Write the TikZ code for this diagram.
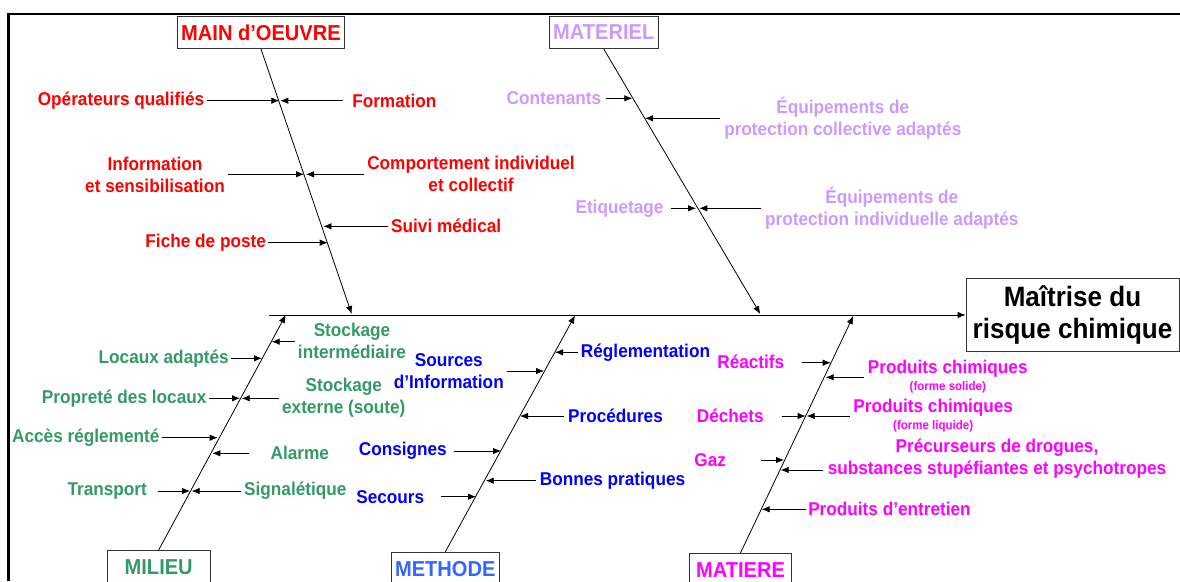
\documentclass[tikz,border=0pt]{standalone}
\usepackage{fontspec}
\setmainfont{Liberation Sans}[FakeStretch=0.93]
\usetikzlibrary{arrows.meta}
\definecolor{oeuvreRed}{HTML}{FF0000}
\definecolor{materielLilac}{HTML}{CC99FF}
\definecolor{milieuGreen}{HTML}{339966}
\definecolor{methodeBlue}{HTML}{0000FF}
\definecolor{methodeHead}{HTML}{3366FF}
\definecolor{matiereMagenta}{HTML}{FF00FF}

\begin{document}
\begin{tikzpicture}
[x=1pt,y=-1pt,
 catBox/.style={draw=black!80,fill=white,line width=0.8pt,minimum height=32.7pt,inner sep=0pt,font=\fontsize{21.6}{24}\selectfont\bfseries},
 causeText/.style={align=center,inner sep=0pt,font=\fontsize{18.5}{22}\selectfont\bfseries},
 boneLine/.style={-{Latex[length=8pt,width=6.5pt]},line width=0.8pt},
 causeArrow/.style={-{Latex[length=8pt,width=6.5pt]},line width=0.8pt}]
\useasboundingbox (0,0) rectangle (1180,581);
%% frame
\draw[line width=2.4pt] (8.3,581) -- (8.3,14) -- (1180,14);
%% effect and spine
\node (effect) at (1072.5,315) [draw=black!80,line width=0.8pt,minimum width=213pt,minimum height=73.7pt,inner sep=0pt,align=center,font=\fontsize{28}{32.7}\selectfont\bfseries] {Maîtrise du\\risque chimique};
\coordinate (spine) at (269,315);
\draw[boneLine] (spine) -- (effect.west);
%% categories
\foreach \nodename/\x/\y/\w/\col/\txt in {
  main/261/32.3/166.6/oeuvreRed/MAIN d’OEUVRE,
  materiel/603.8/32.3/109.7/materielLilac/MATERIEL,
  milieu/158.7/566.7/102.7/milieuGreen/MILIEU,
  methode/445.3/568.6/107.3/methodeHead/METHODE,
  matiere/740.5/569.6/102.4/matiereMagenta/MATIERE}
{
  \node (\nodename) at (\x,\y) [catBox,minimum width=\w pt,text=\col] {\txt};
}
%% bones
\foreach \nodename/\x/\y in {main/351.7/314, materiel/760.3/314,
  milieu/285.7/315, methode/575/315.5, matiere/853.3/316}
{
  \coordinate (\nodename-tip) at (\x,\y);
}
\draw[boneLine] (main.south) -- (main-tip);
\draw[boneLine] (materiel.south) -- (materiel-tip);
\draw[boneLine] (milieu.north) -- (milieu-tip);
\draw[boneLine] (methode.north) -- (methode-tip);
\draw[boneLine] (matiere.north) -- (matiere-tip);
%% causes
\foreach \nodename/\x/\y/\col/\txt in {
  opq/121/100.7/oeuvreRed/Opérateurs qualifiés,
  form/394.3/100.7/oeuvreRed/Formation,
  info/155/174.5/oeuvreRed/Information\\et sensibilisation,
  comp/471/174.2/oeuvreRed/Comportement individuel\\et collectif,
  suivi/446.2/225.7/oeuvreRed/Suivi médical,
  fiche/205.7/242.7/oeuvreRed/Fiche de poste,
  cont/553.9/98.3/materielLilac/Contenants,
  epc/842.8/117.9/materielLilac/Équipements de\\protection collective adaptés,
  etiq/619.5/208.3/materielLilac/Etiquetage,
  epi/891.8/207.9/materielLilac/Équipements de\\protection individuelle adaptés,
  stint/352/341.2/milieuGreen/Stockage\\intermédiaire,
  loc/163.7/358.3/milieuGreen/Locaux adaptés,
  prop/124.2/398.3/milieuGreen/Propreté des locaux,
  stext/343.8/397.5/milieuGreen/Stockage\\externe (soute),
  acc/85.8/437.7/milieuGreen/Accès réglementé,
  alarm/299.8/453.3/milieuGreen/Alarme,
  transp/107.2/491/milieuGreen/Transport,
  signal/295.3/491/milieuGreen/Signalétique,
  regl/645.5/352.3/methodeBlue/Réglementation,
  src/448.8/370.8/methodeBlue/Sources\\d’Information,
  proc/615.5/416/methodeBlue/Procédures,
  cons/402.8/451/methodeBlue/Consignes,
  bonnes/612.5/480.7/methodeBlue/Bonnes pratiques,
  secours/390.3/496.7/methodeBlue/Secours,
  reac/750.8/361.7/matiereMagenta/Réactifs,
  pcs/947.8/376.5/matiereMagenta/Produits chimiques\\[-5.5pt]{\fontsize{12.4}{13}\selectfont (forme solide)},
  dech/730.3/416/matiereMagenta/Déchets,
  pcl/933.2/415.5/matiereMagenta/Produits chimiques\\[-5.5pt]{\fontsize{12.4}{13}\selectfont (forme liquide)},
  gaz/710.2/460/matiereMagenta/Gaz,
  entr/889.5/509.3/matiereMagenta/Produits d’entretien}
{
  \node (\nodename) at (\x,\y) [causeText,text=\col] {\txt};
}
\node (prec) at (997,458.8) [causeText,text=matiereMagenta] {Précurseurs de drogues,\\substances stupéfiantes et psychotropes};
%% arrows
\foreach \nodename/\tx/\hx/\y in {
  opq/206.7/279.3/100.7, form/343.3/280.3/100.7,
  info/228.3/304/174.3, comp/364/306/174.3,
  suivi/388.4/323.4/226.3, fiche/268.3/327.7/242.7,
  cont/605.7/632.3/98.3, epc/720/645/118.3,
  etiq/671/696/208.3, epi/761/699.3/208.3,
  stint/295/271.7/341.7, loc/231/262/358.3,
  prop/209.3/240/398.3, stext/279/241.7/398.3,
  acc/162.3/217.7/437.7, alarm/249/212.3/453.3,
  transp/158.3/190/491, signal/240.7/191.7/491,
  regl/577.7/555/352.3, src/506.7/544/371,
  proc/564.3/520/416, cons/454/501/451,
  bonnes/536/485.7/480.7, secours/441/476/496.7,
  reac/801.7/830.7/362.7, pcs/864.3/825.7/377.3,
  dech/781.7/805.7/416, pcl/850/806.7/416,
  gaz/761/784/460, prec/823.3/780.7/470,
  entr/805.7/761.7/509.3}
{
  \coordinate (\nodename-t) at (\tx,\y);
  \coordinate (\nodename-h) at (\hx,\y);
  \draw[causeArrow] (\nodename-t) -- (\nodename-h);
}
\end{tikzpicture}
\end{document}
